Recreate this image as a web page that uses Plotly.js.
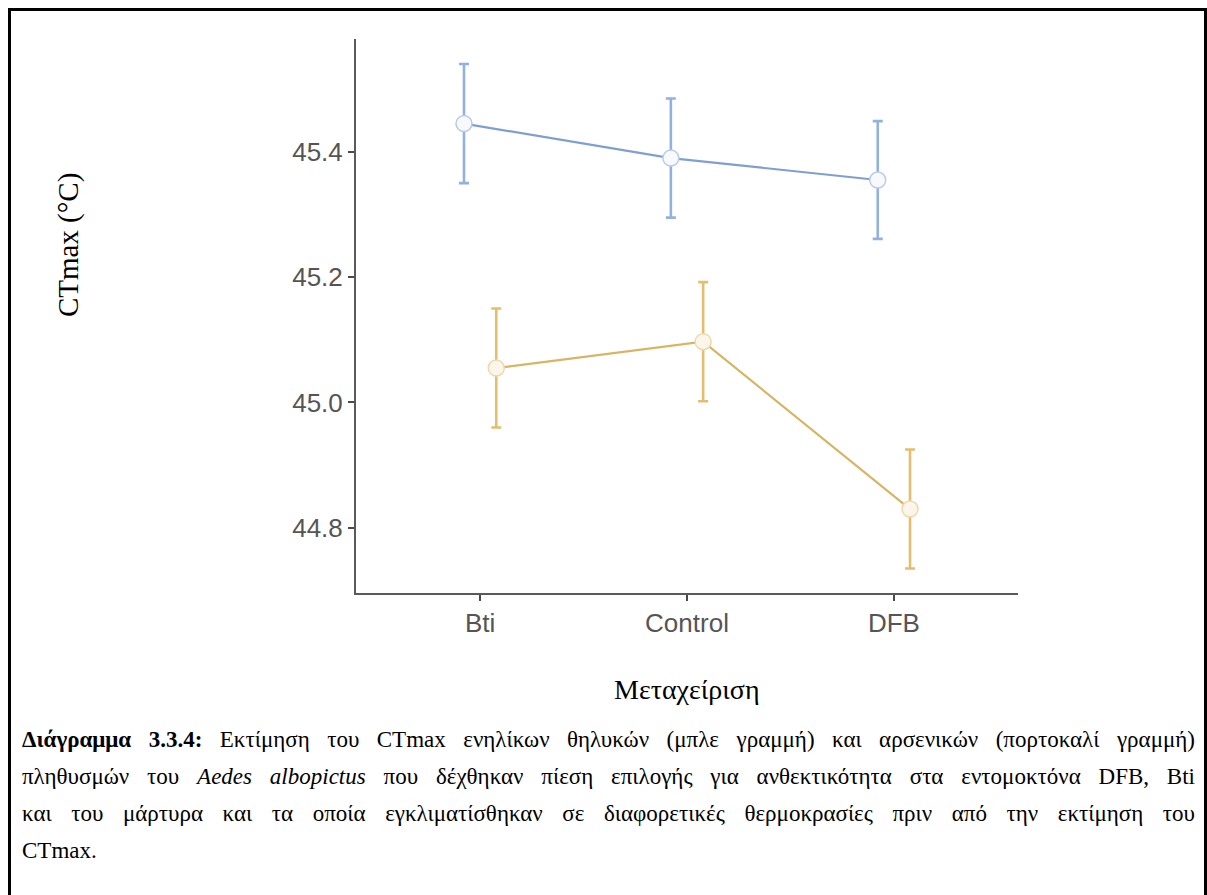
<!DOCTYPE html>
<html>
<head>
<meta charset="utf-8">
<script src="https://cdn.plot.ly/plotly-3.0.1.min.js"></script>
<style>
  html, body { margin: 0; padding: 0; background: #fff; width: 1207px; height: 895px; overflow: hidden; }
  #frame { position: absolute; left: 8px; top: 8px; width: 1199px; height: 900px; border: 3px solid #000; border-bottom: none; box-sizing: border-box; }
  #chart { position: absolute; left: 0; top: 0; width: 1207px; height: 895px; }
  #caption { position: absolute; left: 22px; top: 726px; width: 1173px; font-family: "Liberation Serif", "Times New Roman", serif; font-size: 23px; color: #000; }
  #caption .ln { height: 37px; line-height: 28px; text-align: justify; text-align-last: justify; white-space: nowrap; }
  #caption .ln.last { text-align-last: left; }
</style>
</head>
<body>
<div id="chart"></div>
<div id="frame"></div>
<div id="caption">
  <div class="ln"><b>Διάγραμμα 3.3.4:</b> Εκτίμηση του CTmax ενηλίκων θηλυκών (μπλε γραμμή) και αρσενικών (πορτοκαλί γραμμή)</div>
  <div class="ln">πληθυσμών του <i>Aedes albopictus</i> που δέχθηκαν πίεση επιλογής για ανθεκτικότητα στα εντομοκτόνα DFB, Bti</div>
  <div class="ln">και του μάρτυρα και τα οποία εγκλιματίσθηκαν σε διαφορετικές θερμοκρασίες πριν από την εκτίμηση του</div>
  <div class="ln last">CTmax.</div>
</div>
<script>
// Data
const categories = ["Bti", "Control", "DFB"];
const femaleMean = [45.445, 45.390, 45.355];
const femaleSE   = [0.095, 0.095, 0.094];
const maleMean   = [45.055, 45.097, 44.830];
const maleSE     = [0.095, 0.095, 0.095];
const yTicks = [44.8, 45.0, 45.2, 45.4];

const dodge = 0.078;
const idx = categories.map((c, i) => i);

const traces = [
  {
    x: idx.map(i => i - dodge), y: femaleMean,
    type: "scatter", mode: "lines+markers",
    line: { color: "#7f9fd2", width: 2.2 },
    marker: { symbol: "circle", size: 16, color: "#f7f9fd", line: { color: "#b9cbe6", width: 1.5 } },
    error_y: { type: "data", array: femaleSE, visible: true, color: "#93b1de", thickness: 2.6, width: 5 },
    showlegend: false, hoverinfo: "skip"
  },
  {
    x: idx.map(i => i + dodge), y: maleMean,
    type: "scatter", mode: "lines+markers",
    line: { color: "#d6b563", width: 2.2 },
    marker: { symbol: "circle", size: 16, color: "#fcf6ea", line: { color: "#eed8ad", width: 1.5 } },
    error_y: { type: "data", array: maleSE, visible: true, color: "#e4be6e", thickness: 2.6, width: 5 },
    showlegend: false, hoverinfo: "skip"
  }
];

const layout = {
  width: 1207, height: 895,
  margin: { l: 356, r: 189, t: 39, b: 302 },
  paper_bgcolor: "rgba(0,0,0,0)", plot_bgcolor: "rgba(0,0,0,0)",
  font: { family: "Liberation Sans, Arial, sans-serif", color: "#4d4d4d" },
  xaxis: {
    range: [-0.6, 2.6], tickmode: "array", tickvals: idx, ticktext: categories,
    showgrid: false, zeroline: false, showline: true, linecolor: "#5a5a5a", linewidth: 2,
    ticks: "outside", ticklen: 6, tickwidth: 2, tickcolor: "#4a4a4a",
    tickfont: { size: 26, color: "#555555" }, fixedrange: true
  },
  yaxis: {
    range: [44.696, 45.58], tickmode: "array", tickvals: yTicks, ticktext: yTicks.map(v => v.toFixed(1)),
    showgrid: false, zeroline: false, showline: true, linecolor: "#5a5a5a", linewidth: 2,
    ticks: "outside", ticklen: 6, tickwidth: 2, tickcolor: "#4a4a4a",
    tickfont: { size: 26, color: "#555555" }, fixedrange: true
  },
  annotations: [
    { text: "CTmax (°C)", xref: "paper", yref: "paper", x: -0.435, y: 0.628, textangle: -90,
      xanchor: "center", yanchor: "middle",
      showarrow: false, font: { family: "Liberation Serif, Times New Roman, serif", size: 29, color: "#000" } },
    { text: "Μεταχείριση", xref: "paper", yref: "paper", x: 0.5, y: -0.175,
      xanchor: "center", yanchor: "middle",
      showarrow: false, font: { family: "Liberation Serif, Times New Roman, serif", size: 28, color: "#000" } }
  ]
};

Plotly.newPlot("chart", traces, layout, { displayModeBar: false, staticPlot: true });
</script>
</body>
</html>
